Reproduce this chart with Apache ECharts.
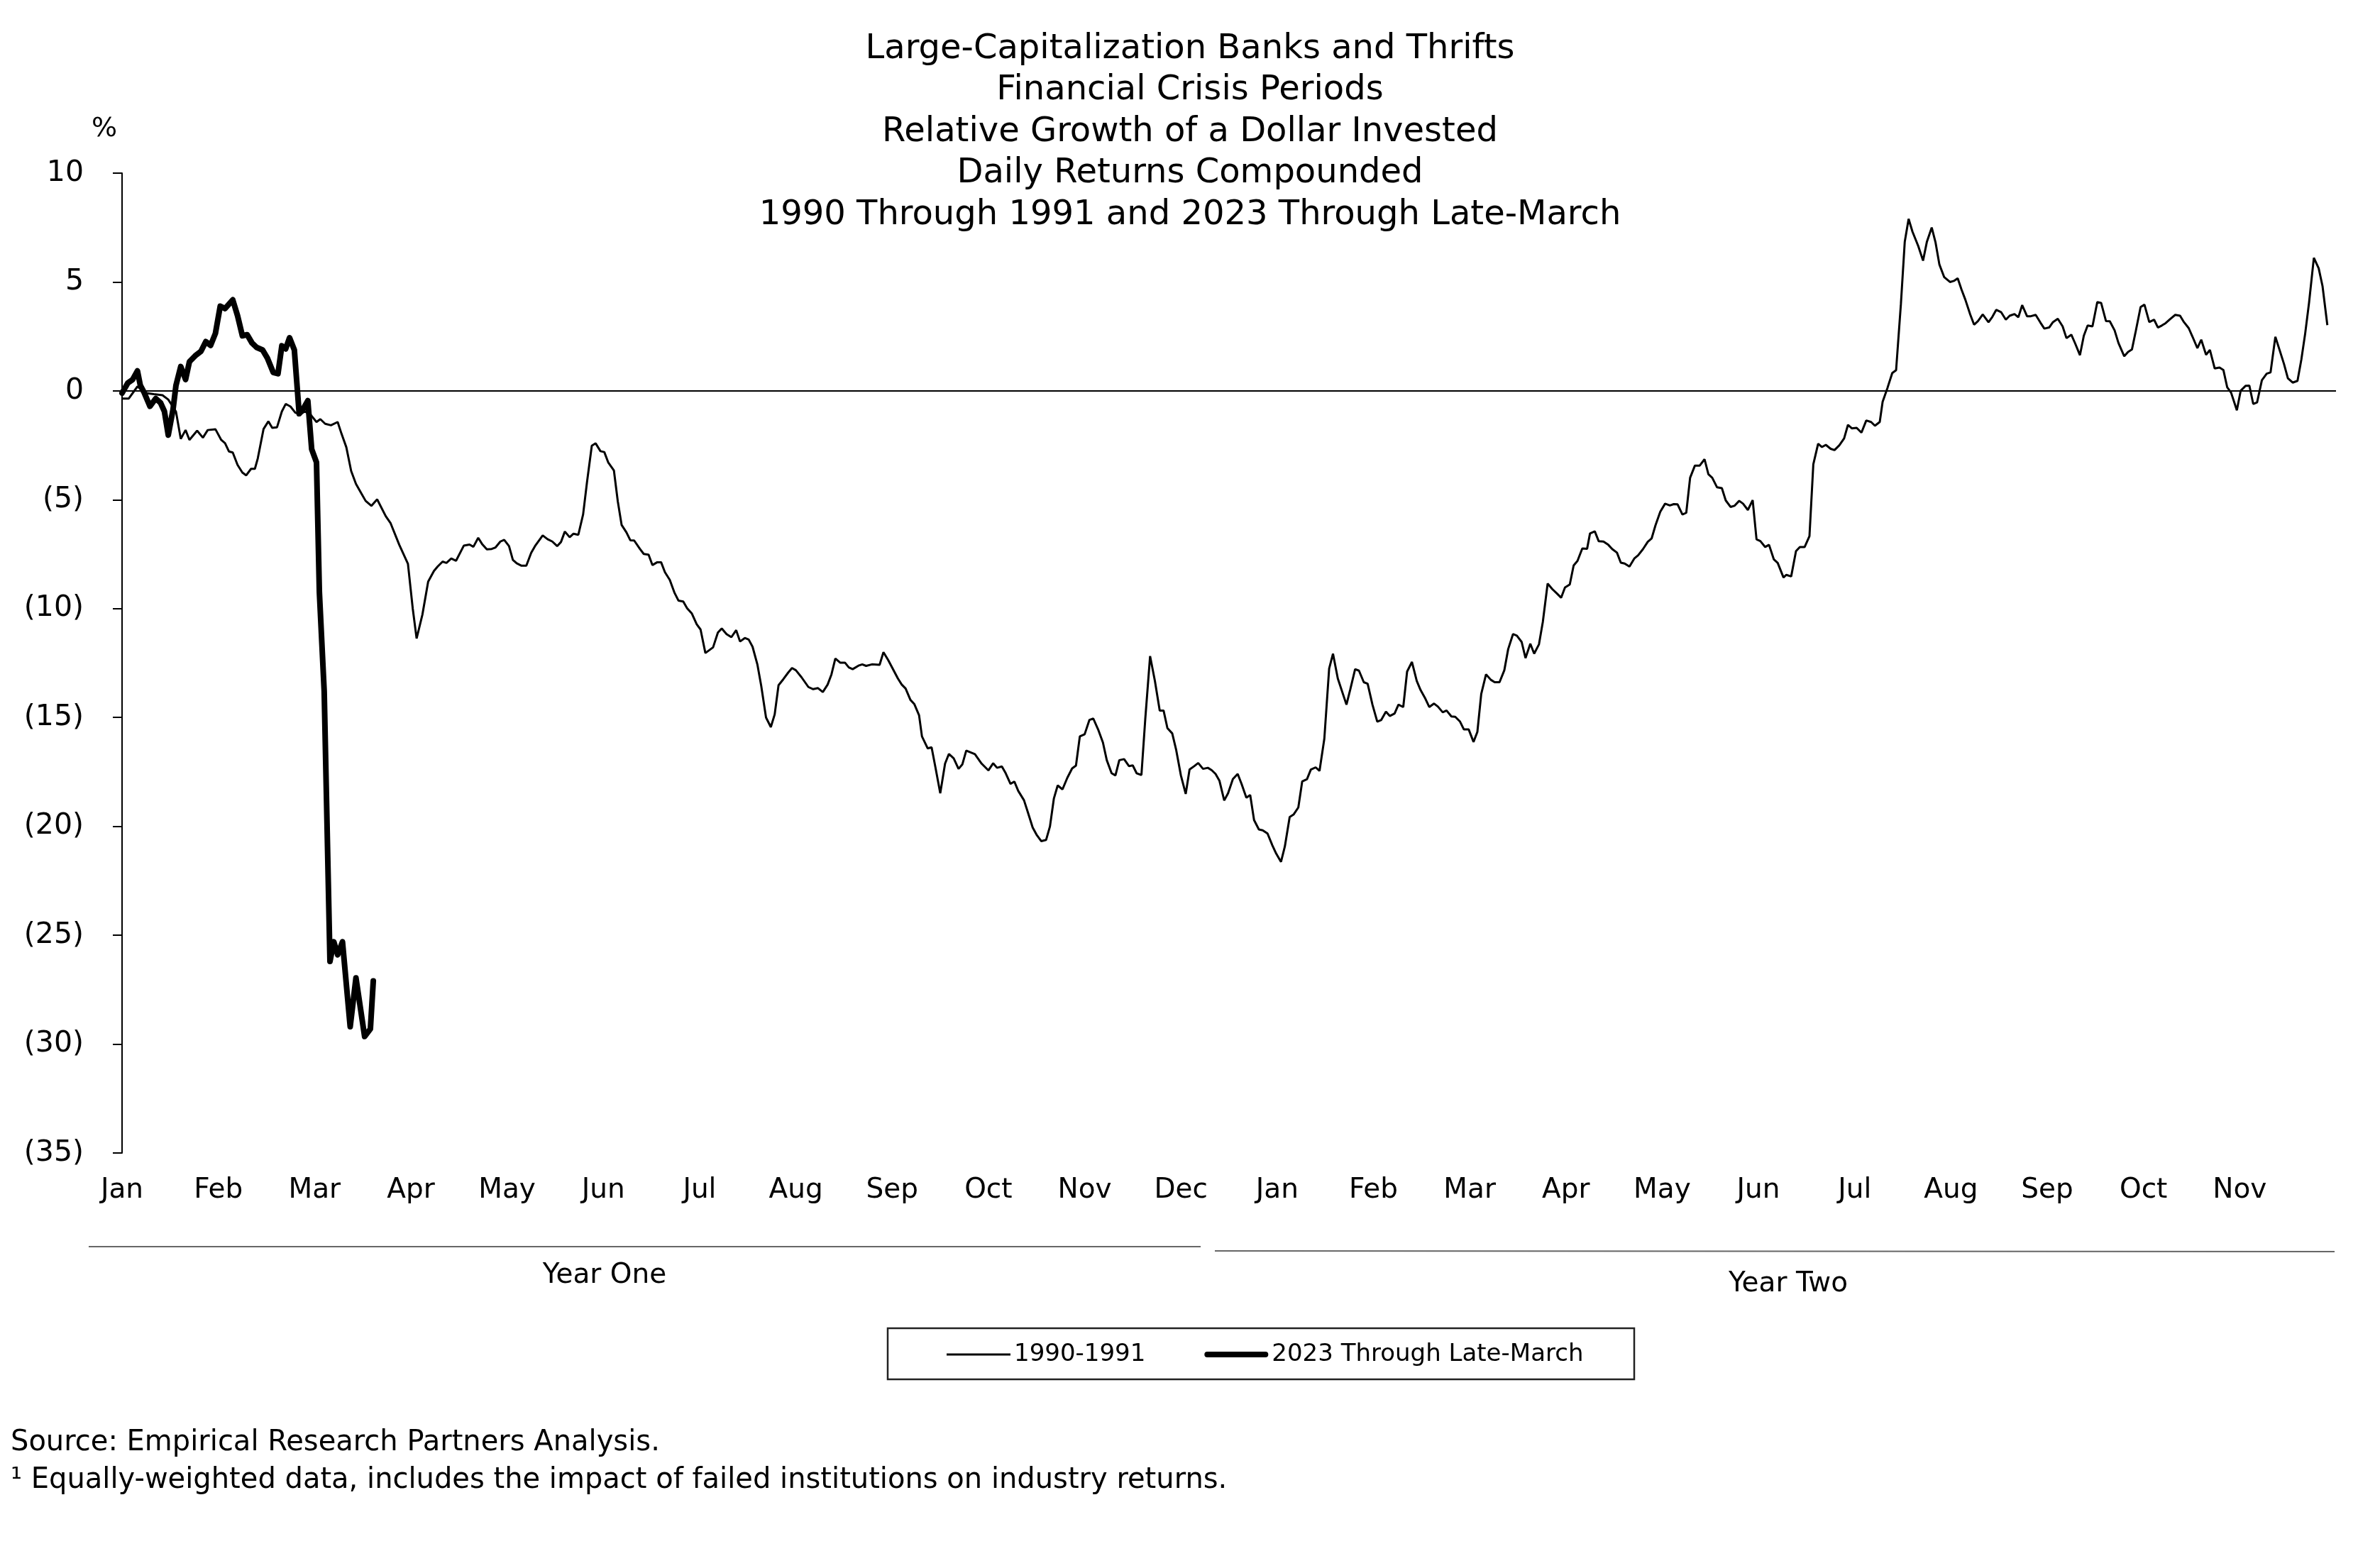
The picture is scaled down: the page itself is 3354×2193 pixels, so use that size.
<!DOCTYPE html>
<html>
<head>
<meta charset="utf-8">
<script src="https://cdn.jsdelivr.net/npm/echarts@6/dist/echarts.min.js"></script>
<style>
html,body{margin:0;padding:0;background:#fff;}
#chart{width:3354px;height:2193px;}
</style>
</head>
<body>
<div id="chart"></div>
<script>
// ---------------- DATA ----------------
const titleLines = [
  'Large-Capitalization Banks and Thrifts',
  'Financial Crisis Periods',
  'Relative Growth of a Dollar Invested',
  'Daily Returns Compounded',
  '1990 Through 1991 and 2023 Through Late-March'
];
const monthLabels = ['Jan','Feb','Mar','Apr','May','Jun','Jul','Aug','Sep','Oct','Nov','Dec',
                     'Jan','Feb','Mar','Apr','May','Jun','Jul','Aug','Sep','Oct','Nov'];
const seriesNames = ['1990-1991', '2023 Through Late-March'];
const yearLabels = ['Year One', 'Year Two'];
const sourceLines = [
  'Source: Empirical Research Partners Analysis.',
  '\u00B9 Equally-weighted data, includes the impact of failed institutions on industry returns.'
];

// time in months since start of Year One, value in %
const t1990 = [0,0.07,0.16,0.25,0.33,0.42,0.48,0.56,0.61,0.66,0.70,0.78,0.84,0.89,0.97,1.03,1.07,1.11,1.15,1.20,1.25,1.29,1.34,1.38,1.41,1.47,1.52,1.56,1.61,1.66,1.70,1.75,1.80,1.85,1.90,1.96,2.02,2.06,2.11,2.17,2.24,2.28,2.33,2.38,2.43,2.48,2.53,2.59,2.65,2.74,2.79,2.88,2.97,3.02,3.06,3.12,3.18,3.24,3.28,3.33,3.37,3.42,3.47,3.55,3.61,3.65,3.70,3.74,3.79,3.84,3.88,3.93,3.97,4.02,4.06,4.10,4.15,4.20,4.25,4.29,4.37,4.42,4.47,4.52,4.56,4.60,4.65,4.69,4.74,4.79,4.83,4.88,4.92,4.97,5.01,5.05,5.11,5.15,5.19,5.24,5.28,5.32,5.38,5.42,5.47,5.51,5.56,5.60,5.64,5.69,5.74,5.78,5.83,5.87,5.92,5.97,6.01,6.06,6.14,6.19,6.23,6.28,6.33,6.38,6.42,6.47,6.51,6.55,6.60,6.64,6.69,6.74,6.78,6.82,6.87,6.92,6.96,7.00,7.06,7.13,7.18,7.23,7.28,7.33,7.37,7.41,7.46,7.51,7.55,7.59,7.65,7.69,7.73,7.79,7.87,7.91,7.96,8.06,8.10,8.14,8.19,8.23,8.28,8.31,8.37,8.41,8.45,8.50,8.55,8.59,8.64,8.69,8.73,8.77,8.86,8.93,9.00,9.05,9.09,9.14,9.18,9.23,9.27,9.31,9.37,9.41,9.46,9.50,9.55,9.60,9.64,9.68,9.72,9.77,9.82,9.87,9.91,9.95,10.00,10.05,10.09,10.14,10.19,10.23,10.28,10.32,10.36,10.41,10.46,10.50,10.54,10.59,10.63,10.68,10.73,10.78,10.82,10.86,10.91,10.95,11.00,11.05,11.09,11.14,11.18,11.23,11.28,11.32,11.36,11.40,11.45,11.49,11.54,11.59,11.63,11.68,11.72,11.76,11.81,11.85,11.90,11.95,11.99,12.04,12.08,12.13,12.17,12.22,12.26,12.31,12.35,12.40,12.44,12.49,12.54,12.58,12.63,12.72,12.76,12.81,12.85,12.90,12.94,12.99,13.04,13.08,13.13,13.17,13.22,13.26,13.31,13.35,13.40,13.45,13.49,13.54,13.58,13.63,13.67,13.72,13.76,13.81,13.85,13.90,13.94,13.99,14.04,14.08,14.12,14.17,14.22,14.26,14.31,14.36,14.40,14.45,14.49,14.54,14.58,14.63,14.67,14.72,14.76,14.81,14.86,14.90,14.95,14.99,15.04,15.08,15.12,15.17,15.22,15.25,15.30,15.34,15.39,15.44,15.48,15.53,15.57,15.61,15.66,15.71,15.75,15.80,15.85,15.89,15.93,15.98,16.03,16.08,16.12,16.16,16.21,16.25,16.29,16.34,16.39,16.44,16.48,16.52,16.57,16.62,16.66,16.71,16.75,16.80,16.84,16.89,16.94,16.98,17.02,17.07,17.11,17.16,17.20,17.26,17.29,17.34,17.39,17.43,17.48,17.53,17.57,17.62,17.66,17.70,17.75,17.79,17.84,17.89,17.93,17.97,18.02,18.07,18.12,18.17,18.21,18.26,18.29,18.34,18.39,18.43,18.48,18.52,18.56,18.60,18.66,18.71,18.75,18.80,18.84,18.88,18.93,18.99,19.03,19.07,19.11,19.15,19.20,19.24,19.28,19.33,19.39,19.43,19.47,19.52,19.57,19.61,19.66,19.70,19.74,19.79,19.83,19.88,19.93,19.97,20.02,20.06,20.11,20.16,20.20,20.25,20.29,20.34,20.38,20.42,20.47,20.52,20.56,20.61,20.65,20.70,20.74,20.80,20.84,20.88,20.92,20.97,21.01,21.06,21.11,21.15,21.19,21.23,21.28,21.33,21.38,21.42,21.47,21.51,21.56,21.60,21.65,21.69,21.74,21.79,21.83,21.87,21.91,21.97,22.01,22.06,22.10,22.14,22.18,22.23,22.28,22.32,22.37,22.41,22.46,22.50,22.55,22.60,22.64,22.68,22.72,22.77,22.82,22.86,22.91];
const v1990 = [-0.35,-0.35,0.2,-0.1,-0.15,-0.2,-0.4,-0.95,-2.2,-1.8,-2.25,-1.83,-2.15,-1.8,-1.76,-2.25,-2.4,-2.78,-2.83,-3.4,-3.75,-3.88,-3.58,-3.58,-3.1,-1.75,-1.4,-1.7,-1.67,-0.95,-0.6,-0.72,-1.0,-1.07,-0.95,-1.1,-1.43,-1.3,-1.51,-1.58,-1.43,-1.97,-2.59,-3.68,-4.27,-4.66,-5.05,-5.28,-4.98,-5.76,-6.08,-7.07,-7.94,-10.0,-11.37,-10.28,-8.76,-8.27,-8.06,-7.84,-7.9,-7.7,-7.8,-7.11,-7.06,-7.16,-6.75,-7.03,-7.28,-7.26,-7.19,-6.92,-6.84,-7.13,-7.76,-7.92,-8.03,-8.03,-7.44,-7.13,-6.64,-6.81,-6.92,-7.13,-6.94,-6.46,-6.72,-6.56,-6.61,-5.67,-4.2,-2.52,-2.41,-2.77,-2.81,-3.28,-3.66,-5.07,-6.16,-6.5,-6.86,-6.87,-7.26,-7.49,-7.52,-8.0,-7.87,-7.87,-8.33,-8.68,-9.28,-9.63,-9.67,-9.98,-10.23,-10.72,-10.96,-12.04,-11.78,-11.1,-10.91,-11.17,-11.31,-10.99,-11.51,-11.35,-11.42,-11.75,-12.56,-13.54,-15.0,-15.44,-14.86,-13.52,-13.24,-12.94,-12.73,-12.83,-13.16,-13.6,-13.7,-13.65,-13.83,-13.49,-13.02,-12.29,-12.48,-12.48,-12.7,-12.78,-12.62,-12.56,-12.63,-12.56,-12.58,-12.0,-12.37,-13.21,-13.49,-13.67,-14.19,-14.38,-14.9,-15.87,-16.42,-16.37,-17.29,-18.48,-17.12,-16.67,-16.88,-17.36,-17.15,-16.52,-16.68,-17.12,-17.43,-17.1,-17.31,-17.25,-17.56,-18.05,-17.94,-18.37,-18.8,-19.35,-20.05,-20.38,-20.68,-20.62,-20.0,-18.73,-18.12,-18.3,-17.77,-17.34,-17.21,-15.87,-15.77,-15.11,-15.05,-15.55,-16.15,-16.96,-17.56,-17.66,-16.96,-16.91,-17.23,-17.2,-17.56,-17.64,-15.06,-12.18,-13.32,-14.68,-14.68,-15.49,-15.73,-16.47,-17.66,-18.51,-17.39,-17.23,-17.09,-17.36,-17.31,-17.42,-17.59,-17.9,-18.81,-18.48,-17.83,-17.59,-18.05,-18.68,-18.56,-19.71,-20.14,-20.18,-20.33,-20.87,-21.25,-21.63,-20.92,-19.57,-19.46,-19.13,-17.94,-17.83,-17.39,-17.29,-17.45,-15.98,-12.76,-12.07,-13.21,-14.41,-13.7,-12.78,-12.85,-13.38,-13.45,-14.41,-15.19,-15.12,-14.73,-14.93,-14.82,-14.41,-14.52,-12.89,-12.45,-13.32,-13.74,-14.14,-14.52,-14.36,-14.5,-14.76,-14.68,-14.95,-14.97,-15.19,-15.55,-15.55,-16.12,-15.66,-13.92,-13.02,-13.27,-13.38,-13.38,-12.83,-11.86,-11.17,-11.24,-11.53,-12.27,-11.61,-12.07,-11.64,-10.61,-8.85,-9.11,-9.28,-9.5,-9.03,-8.89,-8.02,-7.81,-7.24,-7.25,-6.55,-6.45,-6.9,-6.92,-7.07,-7.26,-7.43,-7.89,-7.93,-8.07,-7.7,-7.55,-7.27,-6.93,-6.78,-6.18,-5.55,-5.18,-5.26,-5.2,-5.21,-5.68,-5.6,-3.99,-3.43,-3.43,-3.14,-3.83,-3.99,-4.43,-4.47,-5.03,-5.33,-5.28,-5.05,-5.18,-5.47,-5.02,-6.82,-6.9,-7.17,-7.07,-7.74,-7.9,-8.57,-8.45,-8.52,-7.36,-7.17,-7.17,-6.67,-3.37,-2.43,-2.58,-2.48,-2.66,-2.72,-2.5,-2.18,-1.56,-1.72,-1.7,-1.92,-1.36,-1.43,-1.6,-1.43,-0.5,0.13,0.82,0.95,4.0,6.85,7.9,7.31,6.65,5.98,6.85,7.5,6.81,5.8,5.22,5.0,5.05,5.17,4.65,4.18,3.51,3.04,3.2,3.51,3.15,3.4,3.72,3.62,3.27,3.45,3.53,3.38,3.94,3.43,3.43,3.49,3.13,2.86,2.91,3.16,3.31,2.96,2.42,2.58,2.18,1.64,2.53,3.0,2.96,4.08,4.04,3.21,3.2,2.78,2.2,1.59,1.79,1.9,2.75,3.85,3.96,3.16,3.27,2.91,3.0,3.11,3.31,3.49,3.45,3.16,2.88,2.48,1.96,2.35,1.66,1.88,1.03,1.07,0.96,0.16,-0.08,-0.89,0.01,0.23,0.24,-0.6,-0.53,0.49,0.79,0.85,2.48,1.93,1.23,0.58,0.38,0.46,1.44,2.64,4.05,6.11,5.63,4.81,3.02];

const t2023 = [0,0.06,0.11,0.16,0.19,0.23,0.29,0.35,0.40,0.44,0.48,0.53,0.56,0.61,0.66,0.70,0.76,0.82,0.87,0.92,0.97,1.02,1.07,1.15,1.20,1.25,1.30,1.35,1.40,1.46,1.51,1.57,1.62,1.66,1.70,1.74,1.79,1.84,1.88,1.93,1.97,2.02,2.05,2.10,2.16,2.20,2.24,2.29,2.37,2.43,2.52,2.58,2.61];
const v2023 = [-0.1,0.36,0.52,0.92,0.25,-0.08,-0.71,-0.35,-0.55,-0.94,-2.03,-0.84,0.25,1.12,0.52,1.34,1.61,1.82,2.26,2.09,2.64,3.89,3.78,4.18,3.45,2.53,2.58,2.2,1.99,1.88,1.5,0.85,0.79,2.07,1.93,2.44,1.88,-1.05,-0.84,-0.45,-2.68,-3.28,-9.25,-13.8,-26.2,-25.3,-25.9,-25.3,-29.2,-26.96,-29.65,-29.3,-27.1];

// ---------------- CHART ----------------
const FONT = 'DejaVu Sans';
const zip = (t, v) => t.map((x, i) => [x, v[i]]);
const txt = (size) => size + 'px "' + FONT + '"';

const chart = echarts.init(document.getElementById('chart'), null, {renderer: 'canvas'});

const option = {
  backgroundColor: '#ffffff',
  animation: false,
  title: {
    text: titleLines.join('\n'),
    left: 'center',
    top: 35,
    textStyle: {fontFamily: FONT, fontSize: 48, fontWeight: 'normal', color: '#000', lineHeight: 58.5}
  },
  grid: {left: 172, right: 62, top: 244, bottom: 568, containLabel: false},
  xAxis: {
    type: 'value', min: 0, max: 23, interval: 1,
    axisLine: {show: false}, axisTick: {show: false}, splitLine: {show: false},
    axisLabel: {
      formatter: v => monthLabels[v] || '',
      fontFamily: FONT, fontSize: 39, color: '#000', margin: 33,
      showMaxLabel: true, showMinLabel: true
    }
  },
  yAxis: {
    type: 'value', min: -35, max: 10, interval: 5,
    axisLine: {show: true, lineStyle: {color: '#000', width: 2}},
    axisTick: {show: true, length: 13, lineStyle: {color: '#000', width: 2}},
    splitLine: {show: false},
    axisLabel: {
      formatter: v => v < 0 ? '(' + (-v) + ')' : String(v),
      fontFamily: FONT, fontSize: 41, color: '#000', margin: 54
    }
  },
  legend: {
    data: [
      {name: seriesNames[0], icon: 'path://M0,0H90V3H0Z'},
      {name: seriesNames[1], icon: 'path://M4,0H86A4,4,0,0,1,86,8H4A4,4,0,0,1,4,0Z'}
    ],
    left: 1334, top: 1892,
    itemWidth: 90, itemHeight: 20, itemGap: 83,
    padding: 0,
    itemStyle: {borderWidth: 0, color: '#000'},
    textStyle: {fontFamily: FONT, fontSize: 34, color: '#000'}
  },
  series: [
    {
      name: seriesNames[0], type: 'line', data: zip(t1990, v1990),
      symbol: 'none', showSymbol: false, smooth: false,
      lineStyle: {color: '#000', width: 3},
      itemStyle: {color: '#000'},
      z: 2,
      markLine: {
        silent: true, symbol: ['none', 'none'],
        label: {show: false},
        lineStyle: {color: '#000', width: 2, type: 'solid'},
        data: [{yAxis: 0}]
      }
    },
    {
      name: seriesNames[1], type: 'line', data: zip(t2023, v2023),
      symbol: 'none', showSymbol: false, smooth: false,
      lineStyle: {color: '#000', width: 8, cap: 'round', join: 'round'},
      itemStyle: {color: '#000'},
      z: 3
    }
  ],
  graphic: [
    {type: 'text', x: 147, y: 182, style: {text: '%', font: txt(38), fill: '#000', textAlign: 'center', align: 'center', textVerticalAlign: 'middle', verticalAlign: 'middle'}},
    {type: 'line', shape: {x1: 125, y1: 1757, x2: 1692, y2: 1757}, style: {stroke: '#666', lineWidth: 2}},
    {type: 'line', shape: {x1: 1712, y1: 1763, x2: 3290, y2: 1764}, style: {stroke: '#666', lineWidth: 2}},
    {type: 'text', x: 852, y: 1798, style: {text: yearLabels[0], font: txt(39), fill: '#000', textAlign: 'center', align: 'center', textVerticalAlign: 'middle', verticalAlign: 'middle'}},
    {type: 'text', x: 2520, y: 1810, style: {text: yearLabels[1], font: txt(39), fill: '#000', textAlign: 'center', align: 'center', textVerticalAlign: 'middle', verticalAlign: 'middle'}},
    {type: 'rect', shape: {x: 1251, y: 1872, width: 1052, height: 72}, style: {fill: 'none', stroke: '#222', lineWidth: 2.5}},
    {type: 'text', x: 15, y: 2034, style: {text: sourceLines[0], font: txt(40), fill: '#000', textAlign: 'left', align: 'left', textVerticalAlign: 'middle', verticalAlign: 'middle'}},
    {type: 'text', x: 15, y: 2087, style: {text: sourceLines[1], font: txt(40), fill: '#000', textAlign: 'left', align: 'left', textVerticalAlign: 'middle', verticalAlign: 'middle'}}
  ]
};
chart.setOption(option);
</script>
</body>
</html>
